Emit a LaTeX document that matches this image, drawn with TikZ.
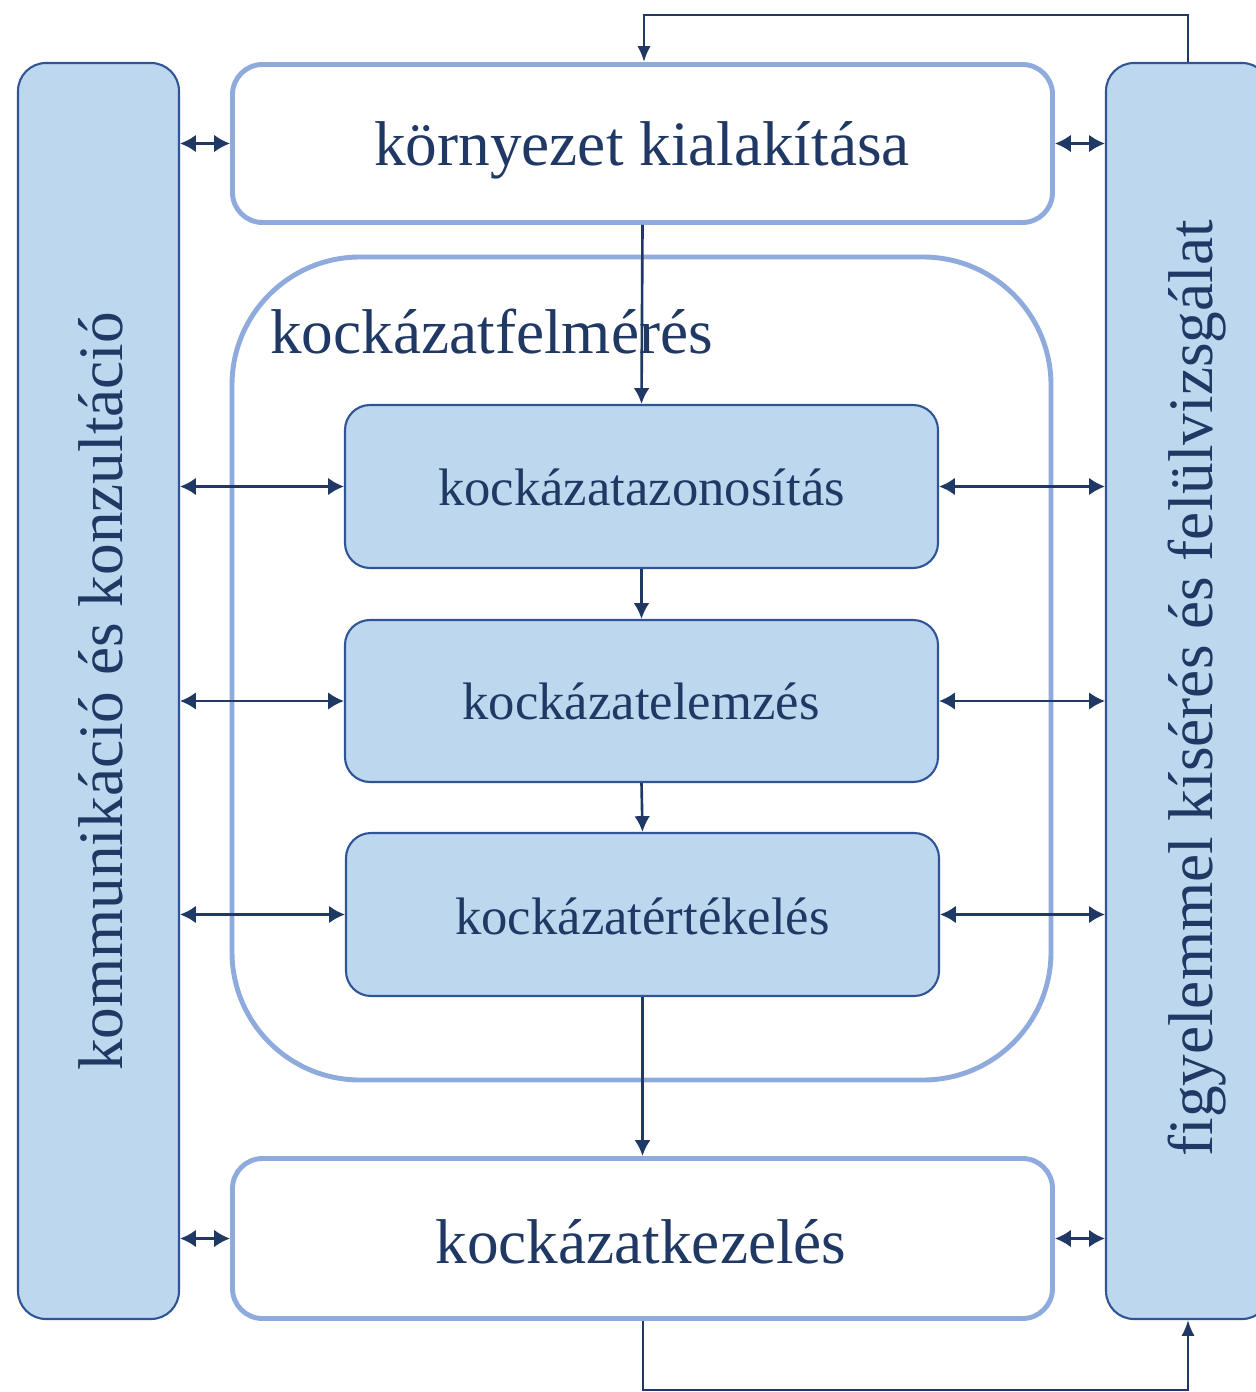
\documentclass[tikz,border=0pt]{standalone}
\usepackage{fontspec}
\setmainfont{Liberation Serif}
\usetikzlibrary{arrows.meta}
\definecolor{navy}{HTML}{1F3864}
\definecolor{barline}{HTML}{2F5597}
\definecolor{pale}{HTML}{BDD7EE}
\definecolor{frame}{HTML}{8FAADC}
\newcommand\pxu{0.02cm}
\begin{document}
\begin{tikzpicture}[x=0.02cm,y=-0.02cm,
  bar/.style={draw=barline, line width=1.2pt, fill=pale, rounded corners=0.56cm, inner sep=0pt},
  whitebox/.style={draw=frame, line width=2.8pt, fill=white, rounded corners=0.6cm, inner sep=0pt},
  bigbox/.style={draw=frame, line width=2.8pt, rounded corners=2.56cm, inner sep=0pt},
  stepbox/.style={draw=barline, line width=1.2pt, fill=pale, rounded corners=0.5cm, inner sep=0pt},
  bigtxt/.style={text=navy, font=\fontsize{36}{40}\selectfont, inner sep=0pt},
  smalltxt/.style={text=navy, font=\fontsize{30}{34}\selectfont, inner sep=0pt},
  arr/.style={draw=navy, line width=1.5pt, -{Latex[length=9pt,width=9pt]}},
  dbl/.style={draw=navy, line width=1.5pt, {Latex[length=9pt,width=10pt]}-{Latex[length=9pt,width=10pt]}},
  looparr/.style={draw=navy, line width=1.3pt, -{Latex[length=9pt,width=7.5pt]}}
]
\useasboundingbox (0,0) rectangle (1256,1392);

% big container
\node[bigbox, minimum width=819*\pxu, minimum height=823*\pxu] (B) at (641.5,668.5) {};
\node[bigtxt, anchor=base west] (Bt) at (270,353) {kockázatfelmérés};

% side bars
\node[bar, minimum width=161*\pxu, minimum height=1256*\pxu] (L) at (98.5,691) {};
\node[bar, minimum width=164*\pxu, minimum height=1256*\pxu] (R) at (1188,691) {};
\node[bigtxt, rotate=90, anchor=base] (Lt) at (122,691.5) {kommunikáció és konzultáció};
\node[bigtxt, rotate=90, anchor=base] (Rt) at (1212,688.5) {figyelemmel kísérés és felülvizsgálat};

% top and bottom boxes
\node[whitebox, minimum width=820*\pxu, minimum height=158*\pxu] (T) at (642.5,143.5) {};
\node[bigtxt, anchor=base] (Tt) at (642,166) {környezet kialakítása};
\node[whitebox, minimum width=820*\pxu, minimum height=160*\pxu] (K) at (642.5,1238.5) {};
\node[bigtxt, anchor=base] (Kt) at (641,1263) {kockázatkezelés};

% inner steps
\node[stepbox, minimum width=593*\pxu, minimum height=163*\pxu] (I1) at (641.5,486.5) {};
\node[smalltxt, anchor=base] (I1t) at (641.5,505) {kockázatazonosítás};
\node[stepbox, minimum width=593*\pxu, minimum height=162*\pxu] (I2) at (641.5,701) {};
\node[smalltxt, anchor=base] (I2t) at (641,719) {kockázatelemzés};
\node[stepbox, minimum width=593*\pxu, minimum height=163*\pxu] (I3) at (642.5,914.5) {};
\node[smalltxt, anchor=base] (I3t) at (642.5,934) {kockázatértékelés};

% vertical flow
\draw[arr] (T.south) -- (I1.north);
\draw[arr] (I1.south) -- (I2.north);
\draw[arr] (I2.south) -- (I3.north);
\draw[arr] (I3.south) -- (K.north);

% horizontal double arrows
\draw[dbl] (L.east |- T.west) -- (T.west);
\draw[dbl] (T.east) -- (T.east -| R.west);
\draw[dbl] (L.east |- I1.west) -- (I1.west);
\draw[dbl] (I1.east) -- (I1.east -| R.west);
\draw[dbl] (L.east |- I2.west) -- (I2.west);
\draw[dbl] (I2.east) -- (I2.east -| R.west);
\draw[dbl] (L.east |- I3.west) -- (I3.west);
\draw[dbl] (I3.east) -- (I3.east -| R.west);
\draw[dbl] (L.east |- K.west) -- (K.west);
\draw[dbl] (K.east) -- (K.east -| R.west);

% feedback loops
\coordinate (tl) at (644,15);
\draw[looparr] (R.north) |- (tl) -- (tl |- T.north);
\coordinate (bl) at (643,1390);
\draw[looparr] (K.south -| bl) -- (bl) -| (R.south);
\end{tikzpicture}
\end{document}
